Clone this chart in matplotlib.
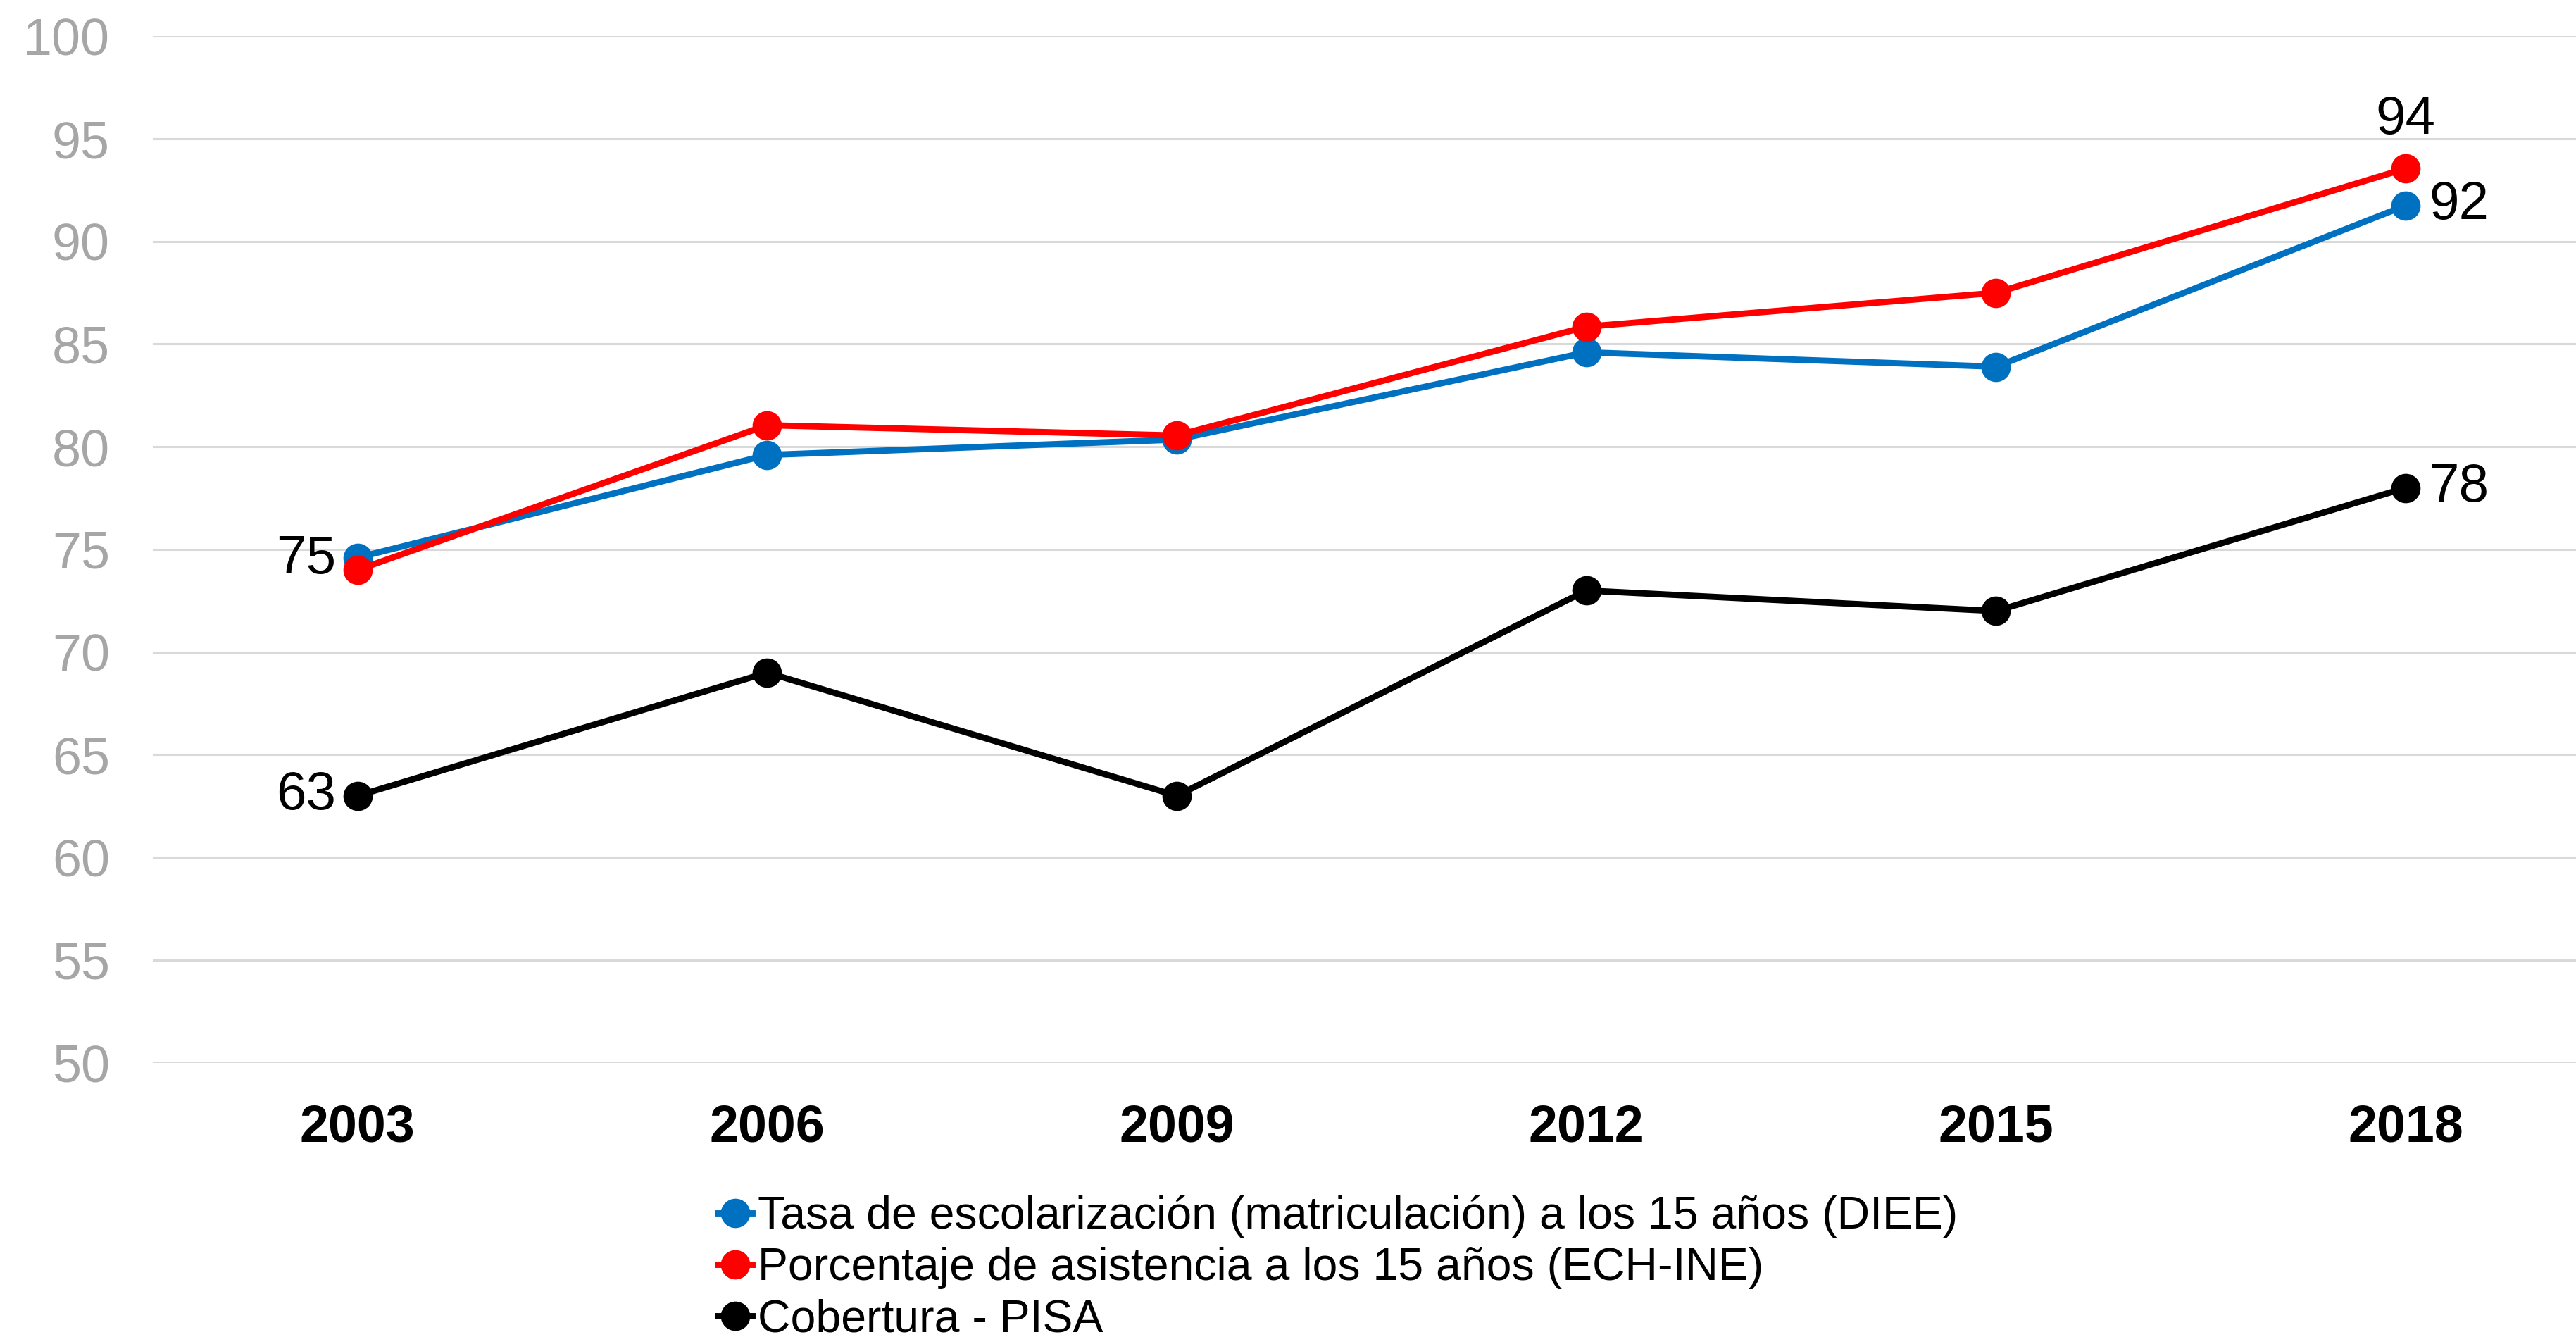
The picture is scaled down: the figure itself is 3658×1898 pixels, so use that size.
import matplotlib
matplotlib.use("Agg")
import matplotlib.pyplot as plt

plt.rcParams['font.family'] = ['Liberation Sans', 'DejaVu Sans']

years = ["2003", "2006", "2009", "2012", "2015", "2018"]
tasa_diee = [74.6, 79.6, 80.35, 84.6, 83.9, 91.75]
asistencia_ech = [74.0, 81.05, 80.55, 85.85, 87.5, 93.55]
cobertura_pisa = [63, 69, 63, 73, 72, 78]
series_names = ["Tasa de escolarización (matriculación) a los 15 años (DIEE)",
                "Porcentaje de asistencia a los 15 años (ECH-INE)",
                "Cobertura - PISA"]
colors = ["#0070C0", "#FF0000", "#000000"]
yticks = [50, 55, 60, 65, 70, 75, 80, 85, 90, 95, 100]

W, H = 3658, 1898
dpi = 200
fig = plt.figure(figsize=(W / dpi, H / dpi), dpi=dpi)
left = 93 / 1568
bottom = 1 - 647 / 814
top = 1 - 22 / 814
ax = fig.add_axes([left, bottom, (1589 - 93) / 1568, top - bottom])

x = list(range(len(years)))
all_series = [tasa_diee, asistencia_ech, cobertura_pisa]
for vals, c, name in zip(all_series, colors, series_names):
    ax.plot(x, vals, color=c, lw=3.2, marker='o', ms=14, label=name, zorder=3)

ax.set_xlim(-0.5, len(years) - 0.5)
ax.set_ylim(50, 100)
ax.set_yticks(yticks)
ax.set_yticklabels([str(v) for v in yticks], color="#A6A6A6", fontsize=26.5)
ax.set_xticks(x)
ax.set_xticklabels(years, fontsize=26.5, fontweight='bold')
ax.tick_params(axis='both', length=0)
ax.tick_params(axis='x', pad=21)
ax.tick_params(axis='y', pad=22)
ax.grid(axis='y', color="#D9D9D9", lw=1.1)
ax.set_axisbelow(True)
for s in ax.spines.values():
    s.set_visible(False)

# Data labels
def lab(i, vals, dx, dy, ha, va):
    ax.annotate(f"{vals[i]:.0f}", (x[i], vals[i]), xytext=(dx, dy),
                textcoords='offset points', ha=ha, va=va, fontsize=27.5, color='black')

lab(0, tasa_diee, -11, -1, 'right', 'center')
lab(0, cobertura_pisa, -11, 0, 'right', 'center')
lab(5, asistencia_ech, 0, 12, 'center', 'bottom')
lab(5, tasa_diee, 12, 0, 'left', 'center')
lab(5, cobertura_pisa, 12, 0, 'left', 'center')

fig.legend(loc='upper left', bbox_to_anchor=(437 / 1568, 1 - 727.5 / 814),
           frameon=False, fontsize=23.2, handlelength=0.75, handletextpad=0.12,
           labelspacing=0.2, borderpad=0, borderaxespad=0)

fig.savefig("out.png", dpi=dpi)
